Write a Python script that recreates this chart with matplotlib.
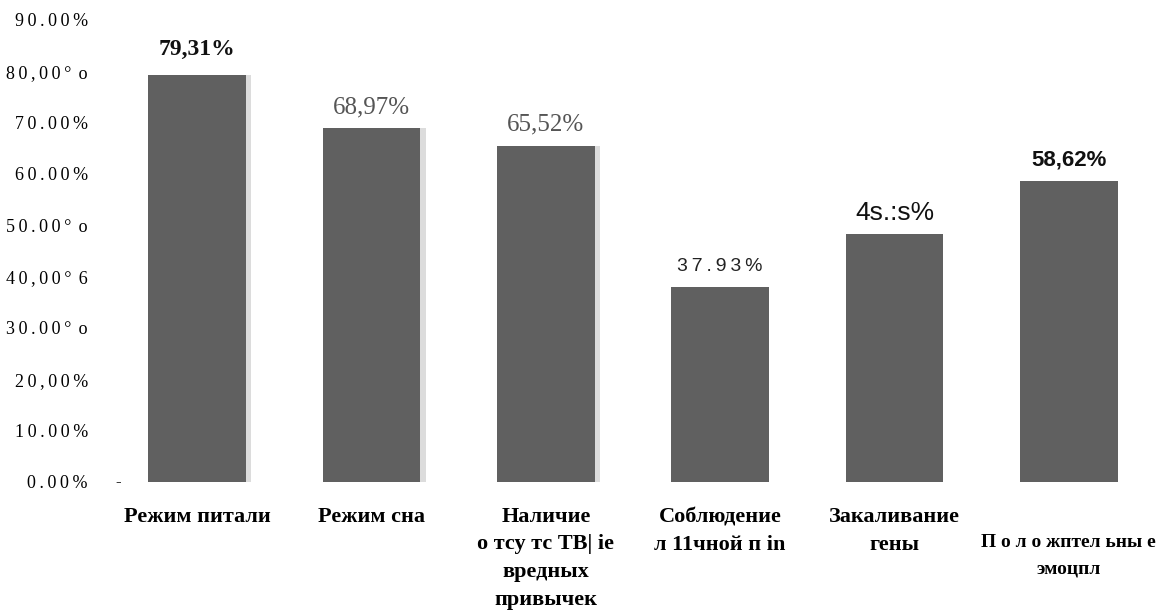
import matplotlib.pyplot as plt
import numpy as np

categories = ["Режим питали", "Режим сна",
              "Наличие\nо тсу тс ТВ| ie\nвредных\nпривычек",
              "Соблюдение\nл 11чной п in", "Закаливание\nгены",
              "\nП о л о жптел ьны е\nэмоцпл"]
values = [79.31, 68.97, 65.52, 37.93, 48.28, 58.62]
value_labels = ["79,31%", "68,97%", "65,52%", "3\u20097\u2009.\u20099\u20093\u2009%", "4s.:s%", "58,62%"]
ytick_vals = [0, 10, 20, 30, 40, 50, 60, 70, 80, 90]
ytick_labels = ["0.00%", "10.00%", "20,00%", "30.00° o", "40,00° 6",
                "50.00° o", "60.00%", "70.00%", "80,00° o", "90.00%"]

# label styles copy the scanned original: mixed fonts per bar
label_styles = [
    dict(family="Liberation Serif", weight="bold", size=17, color="#111111"),
    dict(family="Liberation Serif", weight="normal", size=18, color="#555555"),
    dict(family="Liberation Serif", weight="normal", size=18, color="#555555"),
    dict(family="Liberation Sans", weight="normal", size=14, color="#222222"),
    dict(family="Liberation Sans", weight="normal", size=19, color="#111111"),
    dict(family="Liberation Sans", weight="bold", size=16, color="#111111"),
]

def spaced(s):
    return "\u2009".join(c for c in s if c != " ")

fig = plt.figure(figsize=(11.58, 6.10), dpi=100)
ax = fig.add_axes([110/1158, 128/610, 1046/1158, 462/610])

x = np.arange(len(values))
bw = 0.56
ax.bar(x[:3] + 0.03, values[:3], width=bw, color="#dcdcdc", zorder=1)
ax.bar(x, values, width=bw, color="#606060", zorder=2)

for i, v in enumerate(values):
    off = 18 if i == 0 else 15
    ax.annotate(value_labels[i], (x[i], v), xytext=(0, off), textcoords="offset points",
                ha="center", va="center", **label_styles[i])

ax.set_xlim(-0.5, 5.5)
ax.set_ylim(0, 90)
ax.set_yticks(ytick_vals)
ax.set_yticklabels([spaced(t).replace("°\u2009", "°\u2009\u2009") for t in ytick_labels],
                   family="Liberation Serif", fontsize=13)
ax.set_xticks(x)
ax.set_xticklabels(categories, family="Liberation Serif", fontweight="bold", fontsize=16,
                   linespacing=1.5, va="top")
lbls = ax.get_xticklabels()
lbls[-1].set_fontsize(14)
lbls[-1].set_linespacing(1.75)
ax.tick_params(axis="y", length=0, pad=16)
ax.tick_params(axis="x", length=0, pad=18)
ax.text(0.008, 0, "-", transform=ax.get_yaxis_transform(), ha="center", va="center",
        family="Liberation Serif", fontsize=12)
for s in ax.spines.values():
    s.set_visible(False)

fig.savefig("out.png", dpi=100)
